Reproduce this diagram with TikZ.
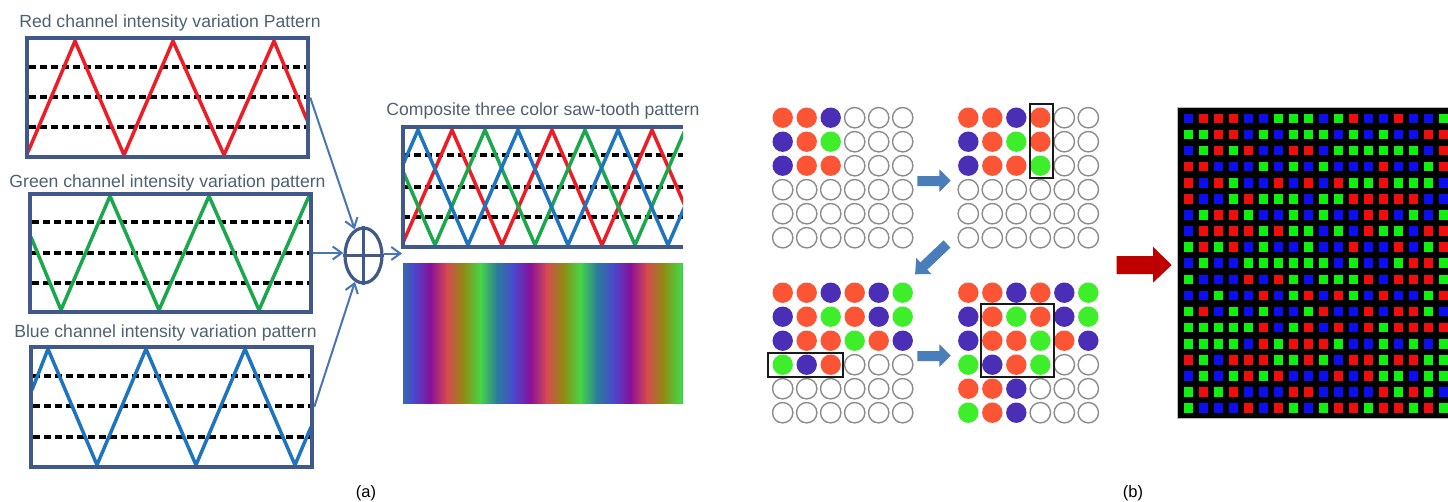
\documentclass[tikz,border=0pt]{standalone}
\usepackage{fontspec}
\setmainfont{Liberation Sans}
\usetikzlibrary{shapes.geometric,arrows.meta}
\definecolor{txt}{HTML}{4F6072}
\definecolor{frame}{HTML}{41598A}
\definecolor{zr}{HTML}{EE1C24}
\definecolor{zg}{HTML}{1BA84C}
\definecolor{zb}{HTML}{1E74BE}
\definecolor{conn}{HTML}{4A74B8}
\definecolor{cR}{HTML}{FB5535}
\definecolor{cB}{HTML}{4A2FB6}
\definecolor{cG}{HTML}{3FEE2A}
\definecolor{barrow}{HTML}{4A7EBB}
\definecolor{rarrow}{HTML}{BE0000}
\definecolor{mR}{HTML}{F20D0D}
\definecolor{mG}{HTML}{0DF20D}
\definecolor{mB}{HTML}{0D0DF2}
\definecolor{gt}{HTML}{2B7C9C}
\definecolor{gb}{HTML}{4A48CC}
\definecolor{gp}{HTML}{88109A}
\definecolor{gr}{HTML}{D64A50}
\definecolor{go}{HTML}{8F8C14}
\definecolor{gg}{HTML}{46D646}
\begin{document}
\begin{tikzpicture}[x=1pt,y=-1pt,
  ttl/.style={text=txt, font=\fontsize{17.6}{20}\selectfont, inner sep=0, anchor=base},
  lbl/.style={text=black, font=\fontsize{16.5}{19}\selectfont, inner sep=0, anchor=base},
  panel/.style={draw=frame, line width=4.5, minimum width=281, inner sep=0},
  dsh/.style={black, line width=3.3, dash pattern=on 7 off 4},
  zig/.style={line width=3.5, line join=miter},
  conarrow/.style={conn, line width=2, -{Straight Barb[length=9,width=13,line width=2]}},
  cellR/.style={fill=cR},
  cellB/.style={fill=cB},
  cellG/.style={fill=cG},
  cellW/.style={draw=gray!90, line width=1.4, fill=white},
  sqR/.style={fill=mR}, sqG/.style={fill=mG}, sqB/.style={fill=mB},
  selbox/.style={draw=black!90, line width=2},
  blockarrow/.style={fill=barrow}
]
\useasboundingbox (0,0) rectangle (1448,501);

% ---------- (a) left panels ----------
\node[ttl] (tr) at (170,27.3) {Red channel intensity variation Pattern};
\node[ttl] (tg) at (167.5,187.3) {Green channel intensity variation pattern};
\node[ttl] (tb) at (165.5,337.3) {Blue channel intensity variation pattern};

% red
\foreach \yy in {67,97,127} \draw[dsh] (29,\yy) -- (306,\yy);
\draw[zig, zr] (28,152) -- (75,41) -- (124,155) -- (173,41) -- (224,155) -- (274,41) -- (307,120);
\node[panel, minimum height=119] (pr) at (167.5,97.5) {};
% green
\foreach \yy in {222,253,283} \draw[dsh] (32,\yy) -- (309,\yy);
\draw[zig, zg] (31,237) -- (61,310) -- (110,196) -- (159,310) -- (209,196) -- (259,310) -- (309,196);
\node[panel, minimum height=118] (pg) at (170.5,253) {};
% blue
\foreach \yy in {376,406,437} \draw[dsh] (33,\yy) -- (310,\yy);
\draw[zig, zb] (32,390) -- (48,349) -- (97,465) -- (146,349) -- (196,465) -- (245,349) -- (295,465) -- (311,427);
\node[panel, minimum height=120] (pb) at (171.5,407) {};

% sum
\node[draw=frame, line width=3.2, ellipse, minimum width=37, minimum height=55, inner sep=0] (sum) at (363.5,255.5) {};
\draw[frame, line width=3.2] (sum.north) -- (sum.south) (sum.west) -- (sum.east);

\draw[conarrow] (pr.east) -- (sum);
\draw[conarrow] (pg.east) -- (pg.east -| sum.west);
\draw[conarrow] (pb.east) -- (sum);
\coordinate (cin) at (402,253.5);
\draw[conarrow] (sum.east |- cin) -- (cin);

% composite
\node[ttl] (tc) at (543,115.7) {Composite three color saw-tooth pattern};
\begin{scope}
\clip (403,129) rectangle (683,246);
\foreach \yy in {155,187,217} \draw[dsh] (403,\yy) -- (683,\yy);
\draw[zig, zr] (352,130) -- (402,245) -- (452,130) -- (502,245) -- (552,130) -- (602,245) -- (652,130) -- (702,245) -- (752,130);
\draw[zig, zg] (335,245) -- (385,130) -- (435,245) -- (485,130) -- (535,245) -- (585,130) -- (635,245) -- (685,130) -- (735,245);
\draw[zig, zb] (318,130) -- (368,245) -- (418,130) -- (468,245) -- (518,130) -- (568,245) -- (618,130) -- (668,245) -- (718,130);
\end{scope}
\node[minimum width=280, minimum height=120, inner sep=0] (comp) at (543,187) {};
\draw[frame, line width=4.5] (comp.north east) -- (comp.north west) -- (comp.south west) -- (comp.south east);

% gradient
\begin{scope}
\clip (403,263) rectangle (683,403);
\foreach \a/\b [count=\i from 0] in {gt/gb,gb/gp,gp/gr,gr/go,go/gg,gg/gt,gt/gb,gb/gp,gp/gr,gr/go,go/gg,gg/gt,gt/gb,gb/gp,gp/gr,gr/go,go/gg,gg/gt}
  \shade[left color=\a, right color=\b] ({396.67+16.667*\i},263) rectangle ({413.84+16.667*\i},403);
\end{scope}

\node[lbl] (la) at (366,497) {(a)};
\node[lbl] (lb) at (1133,497) {(b)};

% ---------- (b) circle grids ----------
\newcommand{\cgrid}[3]{%
  \foreach \c [count=\i from 0] in {#3} {%
    \pgfmathsetmacro\cx{#1+24*mod(\i,6)}%
    \pgfmathsetmacro\cy{#2+24*floor(\i/6)}%
    \path[cell\c] (\cx,\cy) circle (10.2);
  }}
\cgrid{782.7}{117.7}{R,R,B,W,W,W, B,R,G,W,W,W, B,R,R,W,W,W, W,W,W,W,W,W, W,W,W,W,W,W, W,W,W,W,W,W}
\cgrid{968.3}{117.7}{R,R,B,R,W,W, B,R,G,R,W,W, B,R,R,G,W,W, W,W,W,W,W,W, W,W,W,W,W,W, W,W,W,W,W,W}
\cgrid{782.7}{292.7}{R,R,B,R,B,G, B,R,G,R,B,G, B,R,R,G,R,B, G,B,R,W,W,W, W,W,W,W,W,W, W,W,W,W,W,W}
\cgrid{968.3}{292.7}{R,R,B,R,B,G, B,R,G,R,B,G, B,R,R,G,R,B, G,B,R,G,W,W, R,R,B,W,W,W, G,R,B,W,W,W}

\draw[selbox] (1030,104.3) rectangle (1052.7,178.3);
\draw[selbox] (768.3,353.3) rectangle (842.7,376.7);
\draw[selbox] (981,304) rectangle (1054,376.7);

% block arrows
\fill[blockarrow] (917.3,176) -- (939.3,176) -- (939.3,169.3) -- (950.7,180.7) -- (939.3,192) -- (939.3,186) -- (917.3,186) -- cycle;
\fill[blockarrow] (917.3,351) -- (939.3,351) -- (939.3,344.3) -- (950.7,355.7) -- (939.3,367) -- (939.3,361) -- (917.3,361) -- cycle;
\begin{scope}[shift={(947,244)}, rotate=223.5]
\fill[blockarrow] (0,-5) -- (32,-5) -- (32,-11) -- (44,0) -- (32,11) -- (32,5) -- (0,5) -- cycle;
\end{scope}
\fill[rarrow] (1116.7,256) -- (1153,256) -- (1153,246.7) -- (1171.7,265) -- (1153,282.7) -- (1153,274) -- (1116.7,274) -- cycle;

% ---------- matrix ----------
\fill[black] (1177,107) rectangle (1448,418.5);
\draw[gray!55, line width=1] (1448,107) -- (1177,107) -- (1177,418.5) -- (1448,418.5);
\foreach \row [count=\i from 0] in {
 {B,R,R,R,B,B,G,G,G,B,G,R,B,B,R,B,B,G},
 {G,G,R,R,B,G,B,G,G,G,B,G,B,G,B,B,R,R},
 {B,G,R,G,R,B,B,R,R,B,G,G,G,G,G,G,B,R},
 {R,R,B,B,B,G,B,G,B,G,B,B,B,R,B,B,G,R},
 {R,B,R,G,B,B,R,B,R,B,R,G,G,R,G,G,G,B},
 {R,B,B,G,R,G,G,G,B,G,G,R,R,R,R,R,B,B},
 {B,G,R,R,G,B,B,G,B,G,B,B,R,R,B,G,B,G},
 {B,R,R,R,R,G,R,G,G,B,G,B,R,G,G,B,R,R},
 {G,R,G,R,B,G,B,B,G,B,B,R,B,B,R,B,G,R},
 {B,G,B,B,G,G,G,G,G,G,B,G,B,B,G,R,R,G},
 {G,B,B,B,R,B,R,G,B,G,G,G,R,B,R,R,R,G},
 {B,B,G,B,B,R,B,G,R,B,R,G,B,R,B,B,G,R},
 {G,R,B,G,B,G,B,B,G,R,B,B,R,B,R,R,G,B},
 {G,G,G,G,G,R,B,G,R,B,R,B,R,G,R,R,R,R},
 {G,G,G,G,B,R,G,R,R,R,G,B,B,G,B,G,B,G},
 {R,G,B,R,R,R,G,G,R,G,B,R,R,G,R,R,G,G},
 {B,G,B,G,R,G,R,B,B,B,R,B,R,G,G,B,G,G},
 {G,R,G,R,B,B,B,R,R,B,B,B,B,R,G,R,G,B},
 {G,B,B,B,R,B,R,G,B,G,R,R,G,R,R,G,R,G}} {
  \foreach \c [count=\j from 0] in \row {
    \pgfmathsetmacro\sx{1188.3+15*\j}
    \pgfmathsetmacro\sy{118.3+16.1*\i}
    \fill[sq\c] (\sx-4.8,\sy-4.8) rectangle (\sx+4.8,\sy+4.8);
  }
}
\end{tikzpicture}
\end{document}
